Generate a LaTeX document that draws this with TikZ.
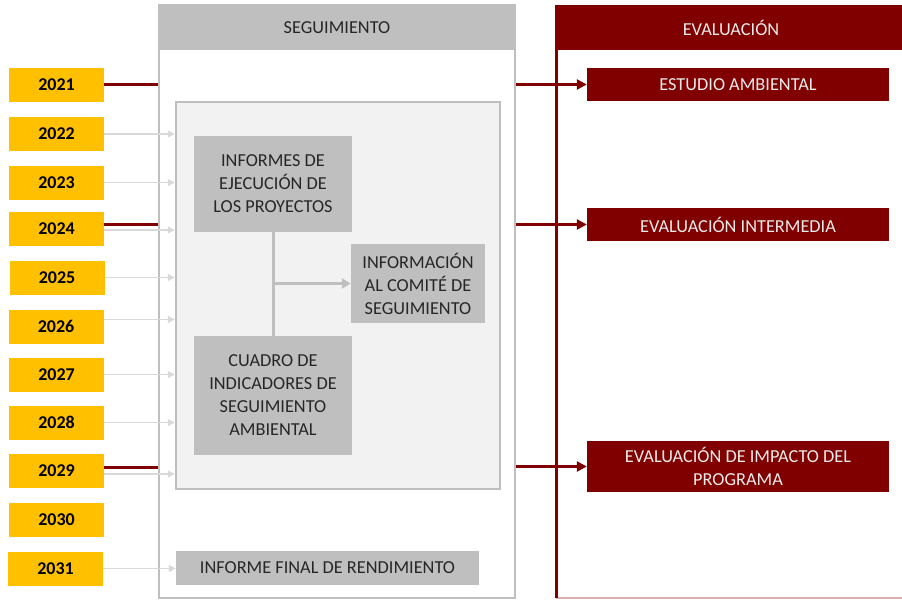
\documentclass[tikz,border=0pt]{standalone}
\usepackage{fontspec}
\setmainfont{Carlito}
\usetikzlibrary{arrows.meta,calc}
\definecolor{yel}{HTML}{FFC000}
\definecolor{dred}{HTML}{800000}
\definecolor{mgray}{HTML}{BFBFBF}
\definecolor{lgray}{HTML}{D9D9D9}
\definecolor{pgray}{HTML}{F2F2F2}
\definecolor{txt}{HTML}{262626}
\definecolor{lred}{HTML}{D8B0B0}
\tikzset{
  year/.style={fill=yel, minimum width=95, minimum height=34, inner sep=0,
    font=\fontsize{18}{20}\selectfont\bfseries, text=black},
  graybox/.style={fill=mgray, inner sep=0, text=txt, align=center,
    font=\fontsize{18.3}{23}\selectfont},
  redbox/.style={fill=dred, inner sep=0, text=white!92!black, align=center,
    font=\fontsize{18.3}{23}\selectfont},
  thinarrow/.style={draw=lgray, line width=1.3, -{Triangle[length=7,width=7]}},
  redline/.style={draw=dred, line width=3},
  redarrow/.style={draw=dred, line width=3, -{Triangle[length=10,width=10]}},
  connector/.style={draw=mgray, line width=3},
}
\begin{document}
\begin{tikzpicture}[x=1pt,y=-1pt]
\useasboundingbox (0,0) rectangle (902,600);
% panels
\node[draw=mgray, line width=2.5, fill=white, minimum width=356, minimum height=593, inner sep=0] (seg) at (337,301.5) {};
\node[fill=mgray, minimum width=356, minimum height=45, inner sep=0, text=txt, font=\fontsize{18.3}{20}\selectfont] (seghead) at (337,27.5) {SEGUIMIENTO};
\fill[dred] (555,5) rectangle (902,50);
\node[text=white!92!black, font=\fontsize{18.3}{20}\selectfont] (evalhead) at (731,27.5) {EVALUACIÓN};
\coordinate (evtop) at (556,50);
\coordinate (evbot) at (556,598);
\coordinate (evright) at (902,598);
\draw[draw=lred, line width=1.5] (evbot) -- (evright);
\draw[draw=dred, line width=3] (evtop) -- (evbot);
% inner box
\node[draw=mgray, line width=2.5, fill=pgray, minimum width=324, minimum height=387, inner sep=0] (inner) at (338,295.5) {};
% years
\node[year] (y2021) at (56.5,84.5) {2021};
\node[year] (y2022) at (56.5,134) {2022};
\node[year] (y2023) at (56.5,182.5) {2023};
\node[year] (y2024) at (56.5,229) {2024};
\node[year] (y2025) at (57,277.5) {2025};
\node[year] (y2026) at (56,326.5) {2026};
\node[year] (y2027) at (56.5,374.5) {2027};
\node[year] (y2028) at (56.5,422.5) {2028};
\node[year] (y2029) at (56.5,471) {2029};
\node[year] (y2030) at (56.5,519.5) {2030};
\node[year] (y2031) at (55.5,568.5) {2031};
% inner boxes
\node[graybox, minimum width=158, minimum height=96] (informes) at (273,183.5) {INFORMES DE\\EJECUCIÓN DE\\LOS PROYECTOS};
\node[graybox, minimum width=158, minimum height=119] (cuadro) at (273,395.5) {CUADRO DE\\INDICADORES DE\\SEGUIMIENTO\\AMBIENTAL};
\node[graybox, minimum width=134, minimum height=79] (info) at (418,283.5) {INFORMACIÓN\\AL COMITÉ DE\\SEGUIMIENTO};
\node[graybox, minimum width=303, minimum height=34] (final) at (327.5,568) {INFORME FINAL DE RENDIMIENTO};
% eval boxes
\node[redbox, minimum width=302, minimum height=33] (estudio) at (738,84.5) {ESTUDIO AMBIENTAL};
\node[redbox, minimum width=302, minimum height=33] (intermedia) at (738,224.5) {EVALUACIÓN INTERMEDIA};
\node[redbox, minimum width=302, minimum height=51] (impacto) at (738,466.5) {EVALUACIÓN DE IMPACTO DEL\\PROGRAMA};
% connectors inner
\coordinate (junc) at (informes.south |- info.west);
\draw[connector] (informes.south) -- (cuadro.north);
\draw[connector, -{Triangle[length=9,width=10]}] (junc) -- (info.west);
% gray year arrows
\draw[thinarrow] (y2022.east) -- (y2022.east -| inner.west);
\draw[thinarrow] (y2023.east) -- (y2023.east -| inner.west);
\draw[thinarrow] ([yshift=-1]y2024.east) -- ([yshift=-1]y2024.east -| inner.west);
\draw[thinarrow] (y2025.east) -- (y2025.east -| inner.west);
\draw[thinarrow] ([yshift=7]y2026.east) -- ([yshift=7]y2026.east -| inner.west);
\draw[thinarrow] (y2027.east) -- (y2027.east -| inner.west);
\draw[thinarrow] (y2028.east) -- (y2028.east -| inner.west);
\draw[thinarrow] ([yshift=-3]y2029.east) -- ([yshift=-3]y2029.east -| inner.west);
\draw[thinarrow] (y2031.east) -- (y2031.east -| final.west);
% dark red year lines
\draw[redline] (y2021.east) -- (y2021.east -| seg.west);
\draw[redline] ([yshift=5]y2024.east) -- ([yshift=5]y2024.east -| seg.west);
\draw[redline] ([yshift=4]y2029.east) -- ([yshift=4]y2029.east -| seg.west);
% dark red arrows to evaluation
\draw[redarrow] (estudio.west -| seg.east) -- (estudio.west);
\draw[redarrow] (intermedia.west -| seg.east) -- (intermedia.west);
\draw[redarrow] (impacto.west -| seg.east) -- (impacto.west);
\end{tikzpicture}
\end{document}
